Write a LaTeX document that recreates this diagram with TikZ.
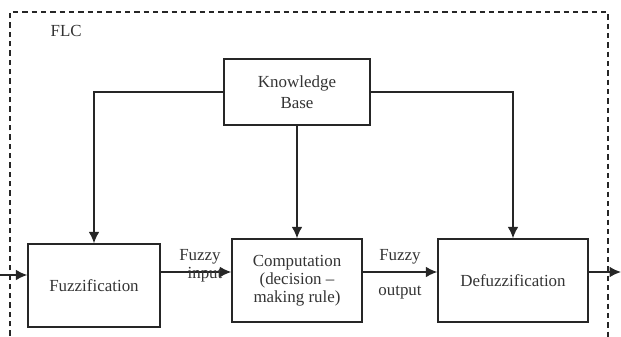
\documentclass[tikz,border=0pt]{standalone}
\usepackage{fontspec}
\setmainfont{Liberation Serif}
\usetikzlibrary{arrows.meta}
\begin{document}
\begin{tikzpicture}[x=0.75pt,y=-0.75pt,
  every node/.style={font=\fontsize{12.7}{14.5}\selectfont, text=black!80},
  blk/.style={draw=black!85, line width=1.1pt, inner sep=0pt, align=center},
  conn/.style={draw=black!85, line width=1.1pt},
  arr/.style={conn, -{Latex[length=8.5pt,width=8pt]}},
  frame/.style={draw=black!85, line width=0.9pt, dash pattern=on 4pt off 3pt}]
\useasboundingbox (0,0) rectangle (621,336);
\draw[frame] (10,345) -- (10,12) -- (608,12) -- (608,345);
\node[anchor=west] (flc) at (46,31) {FLC};
\node[blk, minimum width=146*0.75pt, minimum height=66*0.75pt] (kb) at (297,92) {Knowledge\\[1pt]Base};
\node[blk, minimum width=132*0.75pt, minimum height=83*0.75pt] (fuzz) at (94,285.5) {Fuzzification};
\node[blk, minimum width=130*0.75pt, minimum height=83*0.75pt] (comp) at (297,280.5) {Computation\\[-1pt](decision --\\[-1pt]making rule)};
\node[blk, minimum width=150*0.75pt, minimum height=83*0.75pt] (defuz) at (513,280.5) {Defuzzification};
\coordinate (inp) at (0,275);
\coordinate (row) at (0,272);
\coordinate (outp) at (621,272);
\draw[arr] (kb.west) -| (fuzz.north);
\draw[arr] (kb.east) -| (defuz.north);
\draw[arr] (kb.south) -- (comp.north);
\draw[arr] (inp) -- (fuzz.west |- inp);
\draw[arr] (fuzz.east |- row) -- (comp.west |- row);
\draw[arr] (comp.east |- row) -- (defuz.west |- row);
\draw[arr] (defuz.east |- row) -- (outp);
\node (fi1) at (200,257) {Fuzzy};
\node (fi2) at (205,275) {input};
\node (fo1) at (400,257) {Fuzzy};
\node (fo2) at (400,293) {output};
\end{tikzpicture}
\end{document}
